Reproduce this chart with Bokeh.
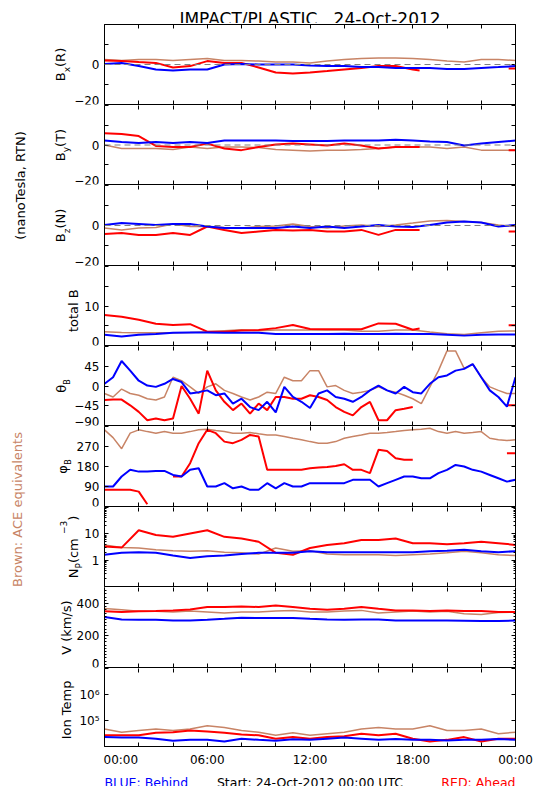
import math
import numpy as np
from bokeh.plotting import figure
from bokeh.layouts import row, column
from bokeh.models import Range1d, LinearAxis, FixedTicker, Label, Span, CustomLabelingPolicy
from bokeh.embed import file_html
from bokeh.resources import INLINE

FONT = "DejaVu Sans"
BLUE = "#0000FF"
RED = "#FF0000"
BROWN = "#C88466"
NAN = float("nan")
NBSP3 = "\u00a0\u00a0\u00a0"

TITLE = "IMPACT/PLASTIC" + NBSP3 + "24-Oct-2012"
FOOT_LEFT = "BLUE: Behind"
FOOT_MID = "Start: 24-Oct-2012 00:00 UTC"
FOOT_RIGHT = "RED: Ahead"
SIDE_TOP = "(nanoTesla, RTN)"
SIDE_BOTTOM = "Brown: ACE equivalents"

# ---------------- time bases (hours after start) ----------------
HOURS = [0, 1, 2, 3, 4, 5, 6, 7, 8, 9, 10, 11, 12, 13, 14, 15, 16, 17, 18,
         19, 20, 21, 22, 23, 24]
HALF_HOURS = [0, 0.5, 1, 1.5, 2, 2.5, 3, 3.5, 4, 4.5, 5, 5.5, 6, 6.5, 7, 7.5,
              8, 8.5, 9, 9.5, 10, 10.5, 11, 11.5, 12, 12.5, 13, 13.5, 14, 14.5,
              15, 15.5, 16, 16.5, 17, 17.5, 18, 18.5, 19, 19.5, 20, 20.5, 21,
              21.5, 22, 22.5, 23, 23.5, 24]
RED_B_HOURS = [0, 1, 2, 3, 4, 5, 6, 7, 8, 9, 10, 11, 12, 13, 14, 15, 16, 17,
               18, 18.4, 21, 23.6, 24]

X_TICKS = [0, 2, 4, 6, 8, 10, 12, 14, 16, 18, 20, 22, 24]
X_TICK_LABELS = {0: "00:00", 6: "06:00", 12: "12:00", 18: "18:00", 24: "00:00"}

# ---------------- B_x (R) ----------------
BX_BLUE = [0.3, 0.8, -0.8, -2.5, -3, -2.5, -2.5, 0, 0.3, 0, 0, 0, -0.5, -0.8,
           -0.8, -1.2, -1.3, -1.7, -1.7, -1.7, -2.2, -2.2, -1.7, -1.3, -0.8]
BX_BROWN = [2.5, 2, 2.5, 2.5, 2, 2.5, 3, 2, 2, 1.7, 1.2, 1.3, 0.8, 1.7, 2.5,
            3, 3.3, 3.3, 3, 2.5, 1.7, 1.3, 2.5, 2.5, 2]
BX_RED = [2, 1.7, 1.2, 0.8, -1.5, -0.8, 1.7, 0.8, 0.8, -1.5, -4, -4.5, -4,
          -3.3, -2.5, -1.7, -0.8, -0.8, -2.5, -3, NAN, -2, -2]

# ---------------- B_y (T) ----------------
BY_BLUE = [2.3, 1.5, 1, 1.5, 1, 1.5, 1, 2.3, 2.3, 2.3, 2.3, 2, 2, 2, 2.3, 2.3,
           2.3, 2.6, 2.3, 1.8, 1.5, -0.2, 0.7, 1.5, 2.3]
BY_BROWN = [0, -1.8, -1.8, -1.8, -2.3, -1, -1.8, -1, -1, -1.3, -2.3, -2.6, -3,
            -2.6, -2.6, -2.3, -1.8, -1, -1, -1, -1.8, -1, -2.6, -2.6, -2.6]
BY_RED = [6, 5.6, 4.5, -0.5, -1, -1, 0.7, -1.8, -2.6, -1, 0.3, 0.7, 0.3, -0.2,
          0.7, -0.2, -1.8, -1, -1, -1, NAN, -2.6, -2.6]

# ---------------- B_z (N) ----------------
BZ_BLUE = [0.3, 1.2, 0.8, 0.3, 0.7, 0.8, -0.5, -1.3, -1.3, -1.3, -1.3, -0.5,
           -1.3, -0.5, -1.3, -0.5, 0.3, -0.5, -0.8, 0.3, 1.5, 2, 1.5, -0.5, 0.3]
BZ_BROWN = [-1.3, -2.2, -1.3, -1, 0.8, -0.5, -0.5, -1, -1.3, -0.5, -0.2, 0.8,
            -0.5, -1.3, -0.2, 0.3, -0.5, 0.3, 1.2, 2.3, 2.5, 2, 1.5, 0.3, -0.5]
BZ_RED = [-4.2, -3.8, -4.7, -4.7, -3.8, -4.7, -0.5, -2.2, -3.8, -3, -2.2, -2.5,
          -2.2, -3, -3, -2.2, -4.7, -2.2, -2.2, -2.2, NAN, -3, -3]

# ---------------- total B ----------------
BT_BLUE = [2.7, 2.3, 2.7, 2.9, 3.2, 3.3, 3.3, 3.2, 3.2, 3.2, 2.9, 2.9, 2.9,
           2.9, 3.0, 2.9, 2.9, 3.0, 2.9, 2.9, 2.7, 2.5, 2.7, 2.8, 2.8]
BT_BROWN = [3.5, 3.3, 3.2, 3.2, 3.2, 3.3, 3.5, 3.75, 4.0, 3.75, 3.9, 3.9, 3.9,
            3.9, 3.9, 3.6, 3.6, 3.9, 3.9, 3.4, 3.0, 2.8, 3.2, 3.6, 3.7]
BT_RED = [7.7, 7.3, 6.5, 5.5, 5.2, 5.4, 3.5, 3.5, 3.8, 3.9, 4.4, 5.2, 4.2, 4.1,
          4.1, 4.1, 5.6, 5.5, 4.0, 4.3, NAN, 5.1, 5.1]

# ---------------- theta_B (deg), half-hourly ----------------
TH_BLUE = [5, 20, 57, 35, 12, 1, -2, 5, 16, 9, -17, -14, -10, -21, -17, -40,
           -29, -48, -55, -36, -60, -2, -25, -36, -50,
           -17, -10, -25, -29, -36, -25, -10, 1, -10, -17, -2, -14, -17, 5,
           20, 24, 35, 39, 50, 20, -10, -25, -47, 20]
TH_RED = [-32, -31, -31, -44, -59, -78, -74, -78, -74, 0, -29, -63, 35, -10,
          -36, -55, -40, -63, -40, -55, -25, -25, -29, -29, -21,
          -25, -32, -48, -59, -67, -48, -36, -78, -78, -55, -52, -48, NAN,
          NAN, NAN, NAN, NAN, NAN, NAN, NAN, NAN, NAN, -44, -44]
TH_BROWN = [-17, -25, -7, -17, -21, -29, -32, -25, 20, 12, -2, -17, -2, 5,
            -10, -17, -25, -32, -25, -14, -17, 20, 12, 12, 35,
            35, -2, 1, -10, -17, -14, -10, -2, -10, -14, -21, -29, -40, -2,
            35, 80, 80, 40, 50, 20, -2, -10, -17, -17]

# ---------------- phi_B (deg), half-hourly ----------------
PH_BLUE = [90, 90, 135, 165, 157, 157, 160, 160, 142, 135, 165, 172, 90, 90,
           105, 82, 90, 75, 75, 105, 82, 105, 90, 90, 105,
           105, 105, 105, 105, 120, 120, 120, 90, 105, 120, 135, 135, 127,
           127, 150, 165, 187, 180, 165, 157, 142, 127, 112, 120]
PH_RED = [75, 75, 75, 75, 67, 10, NAN, NAN, 135, 135, 195, 285, 345, 330, 292,
          285, 300, 322, 315, 165, 165, 165, 165, 165, 172,
          175, 178, 182, 190, 165, 165, 150, 255, 250, 217, 210, 210, NAN,
          NAN, NAN, NAN, NAN, NAN, NAN, NAN, NAN, NAN, 240, 240]
PH_BROWN = [345, 310, 260, 330, 345, 337, 330, 337, 330, 330, 337, 345, 348,
            342, 337, 330, 330, 333, 327, 322, 322, 315, 307, 300, 292,
            285, 285, 292, 307, 315, 322, 330, 330, 333, 337, 342, 345, 348,
            352, 337, 330, 337, 330, 333, 337, 307, 300, 297, 300]

# ---------------- N_p (cm^-3), hourly ----------------
NP_BLUE = [1.6, 1.9, 2.0, 1.9, 1.5, 1.2, 1.4, 1.5, 1.7, 1.9, 1.9, 1.9, 2.2,
           2.0, 2.0, 2.0, 2.0, 2.0, 2.0, 2.2, 2.3, 2.5, 2.2, 2.0, 2.2]
NP_RED = [3.3, 3.0, 13.7, 9.0, 7.7, 10.3, 13.7, 7.7, 6.7, 5.0, 1.9, 1.6, 2.9,
          3.8, 4.4, 5.8, 5.8, 6.7, 4.4, 4.4, 4.0, 4.4, 5.0, 4.4, 3.8]
NP_BROWN = [3.8, 3.0, 2.9, 2.5, 2.3, 2.2, 2.3, 2.0, 1.9, 1.7, 2.9, 2.2, 2.3,
            1.7, 1.6, 1.6, 1.6, 1.5, 1.6, 1.7, 1.9, 2.2, 1.9, 1.6, 1.5]

# ---------------- V (km/s), hourly ----------------
V_BLUE = [315, 300, 298, 298, 294, 294, 298, 304, 311, 309, 309, 309, 304,
          300, 298, 300, 300, 294, 294, 294, 294, 292, 290, 290, 294]
V_RED = [351, 347, 351, 353, 357, 363, 378, 378, 382, 378, 388, 378, 367, 361,
         367, 378, 367, 357, 357, 353, 357, 353, 353, 347, 347]
V_BROWN = [368, 361, 351, 351, 347, 353, 347, 340, 347, 347, 353, 357, 347,
           347, 353, 357, 340, 347, 353, 347, 351, 336, 332, 343, 347]

# ---------------- Ion temperature (K), hourly ----------------
T_BLUE = [23000, 22000, 22000, 20000, 16500, 18000, 18000, 15500, 20000,
          18000, 16500, 19000, 18000, 20000, 22000, 20000, 18000, 19500,
          18000, 18000, 17000, 18000, 18000, 19500, 18000]
T_RED = [27000, 27000, 27000, 34000, 35000, 41000, 38000, 34000, 29000,
         27000, 20000, 23000, 20000, 23000, 25000, 31000, 27000, 31000,
         20000, 15500, 18000, 23000, 15500, 20000, 20000]
T_BROWN = [47000, 35500, 41000, 47000, 41000, 47000, 63000, 54000, 41000,
           35500, 27000, 34000, 27000, 31000, 35500, 47000, 54000, 47000,
           47000, 63000, 41000, 41000, 47000, 31000, 35500]

# DejaVu Sans advance widths (em) used to lay out multi-part rotated labels
ADV = {" ": 0.318, "(": 0.390, ")": 0.390, ",": 0.318, "/": 0.337, "B": 0.686,
       "N": 0.748, "P": 0.603, "R": 0.695, "T": 0.611, "c": 0.550, "m": 0.974,
       "x": 0.592, "y": 0.592, "z": 0.525, "\u2212": 0.838, "3": 0.636,
       "\u03b8": 0.602, "\u03c6": 0.686}


def text_len(t, size):
    return sum(ADV.get(ch, 0.6) for ch in t) * size


def rotated_parts(p, x0, yc, parts):
    total = sum(text_len(t, s) for t, s, o in parts)
    y = yc - total / 2.0
    for t, s, off in parts:
        p.add_layout(Label(x=x0 + off, y=y, x_units="screen", y_units="screen",
                           text=t, angle=math.pi / 2, text_align="left",
                           text_baseline="alphabetic", text_font=FONT,
                           text_font_size=f"{s}px", text_color="black"))
        y += text_len(t, s)


MINUS = "\u2212"
NP_MINOR = [0.2, 0.3, 0.4, 0.5, 0.6, 0.7, 0.8, 0.9, 2, 3, 4, 5, 6, 7, 8, 9,
            20, 30, 40, 50, 60, 70, 80, 90]
V_MINOR = [20, 40, 60, 80, 100, 120, 140, 160, 180, 220, 240, 260, 280, 300,
           320, 340, 360, 380, 420, 440, 460, 480]

PANELS = [
    dict(fh=80, rng=(-20, 20), log=False, ticks=[-20, -10, 0, 10, 20], minor=[],
         labels=[(-20, MINUS + "20", True), (0, "0", False)], zero=True,
         lab_x=25, parts=[("B", 13, 0), ("x", 9, 6), ("(R)", 13, 0)],
         series=[(HOURS, BX_BROWN, BROWN), (RED_B_HOURS, BX_RED, RED), (HOURS, BX_BLUE, BLUE)]),
    dict(fh=79, rng=(-20, 20), log=False, ticks=[-20, -10, 0, 10, 20], minor=[],
         labels=[(-20, MINUS + "20", True), (0, "0", False)], zero=True,
         lab_x=25, parts=[("B", 13, 0), ("y", 9, 5), ("(T)", 13, 0)],
         series=[(HOURS, BY_BROWN, BROWN), (RED_B_HOURS, BY_RED, RED), (HOURS, BY_BLUE, BLUE)]),
    dict(fh=80, rng=(-20, 20), log=False, ticks=[-20, -10, 0, 10, 20], minor=[],
         labels=[(-20, MINUS + "20", True), (0, "0", False)], zero=True,
         lab_x=25, parts=[("B", 13, 0), ("z", 9, 6), ("(N)", 13, 0)],
         series=[(HOURS, BZ_BROWN, BROWN), (RED_B_HOURS, BZ_RED, RED), (HOURS, BZ_BLUE, BLUE)]),
    dict(fh=79, rng=(0, 20), log=False, ticks=[0, 5, 10, 15, 20], minor=[],
         labels=[(0, "0", True), (10, "10", False)], zero=False,
         lab_x=38, parts=[("total B", 13, 0)],
         series=[(HOURS, BT_BROWN, BROWN), (RED_B_HOURS, BT_RED, RED), (HOURS, BT_BLUE, BLUE)]),
    dict(fh=79, rng=(-90, 90), log=False, ticks=[-90, -45, 0, 45, 90], minor=[],
         labels=[(-90, MINUS + "90", True), (-45, MINUS + "45", False), (0, "0", False), (45, "45", False)],
         zero=False, lab_x=26, parts=[("\u03b8", 13, 0), ("B", 8, 6)],
         series=[(HALF_HOURS, TH_BROWN, BROWN), (HALF_HOURS, TH_RED, RED), (HALF_HOURS, TH_BLUE, BLUE)]),
    dict(fh=80, rng=(0, 360), log=False, ticks=[0, 90, 180, 270, 360], minor=[],
         labels=[(0, "0", True), (90, "90", False), (180, "180", False), (270, "270", False)],
         zero=False, lab_x=27, parts=[("\u03c6", 13, 0), ("B", 8, 6)],
         series=[(HALF_HOURS, PH_BROWN, BROWN), (HALF_HOURS, PH_RED, RED), (HALF_HOURS, PH_BLUE, BLUE)]),
    dict(fh=79, rng=(0.1, 100), log=True, ticks=[0.1, 1, 10, 100], minor=NP_MINOR,
         labels=[(1, "1", False), (10, "10", False)], zero=False,
         lab_x=38, parts=[("N", 13, 0), ("P", 9, 5), (" (cm", 13, 0), (MINUS + "3", 9, -10), (")", 13, 0)],
         series=[(HOURS, NP_BROWN, BROWN), (HOURS, NP_RED, RED), (HOURS, NP_BLUE, BLUE)]),
    dict(fh=80, rng=(0, 500), log=False, ticks=[0, 200, 400], minor=V_MINOR,
         labels=[(0, "0", True), (200, "200", False), (400, "400", False)], zero=False,
         lab_x=31, parts=[("V (km/s)", 13, 0)],
         series=[(HOURS, V_BROWN, BROWN), (HOURS, V_RED, RED), (HOURS, V_BLUE, BLUE)]),
    dict(fh=78, rng=(1e4, 1e7), log=True, ticks=[1e4, 1e5, 1e6, 1e7], minor=[],
         labels=[(1e5, "10\u2075", False), (1e6, "10\u2076", False)], zero=False,
         lab_x=31, parts=[("Ion Temp", 13, 0)],
         series=[(HOURS, T_BROWN, BROWN), (HOURS, T_RED, RED), (HOURS, T_BLUE, BLUE)]),
]

SIDE_W = 35      # column with the two long rotated captions
LAB_W = 68       # column with axis names and tick labels of each panel
FRAME_W = 411
BORDER_R = 19
HEAD_H = 23
FOOT_H = 17
LAST_BOTTOM = 21

NO_LABELS = CustomLabelingPolicy(code="for (const i of indices) { indices.unset(i) }\nreturn indices")


def quiet_axis(ax):
    ax.major_label_text_font_size = "0px"
    ax.major_label_standoff = 0
    ax.major_label_policy = NO_LABELS


def bare(p):
    p.xgrid.visible = False
    p.ygrid.visible = False
    p.outline_line_color = None


XR = Range1d(0, 24)
rows = []
n = len(PANELS)
total_h = HEAD_H + FOOT_H
for i, spec in enumerate(PANELS):
    first = i == 0
    last = i == n - 1
    fh = spec["fh"]
    yr = Range1d(*spec["rng"])
    ytype = "log" if spec["log"] else "linear"
    top_b = 1 if first else 0
    bot_b = LAST_BOTTOM if last else 1
    total_h += fh + top_b + bot_b

    p = figure(title=None, frame_width=FRAME_W, frame_height=fh, x_range=XR, y_range=yr,
               y_axis_type=ytype, x_axis_location=None, y_axis_location=None,
               toolbar_location=None, output_backend="svg",
               min_border_left=1, min_border_right=BORDER_R,
               min_border_top=top_b, min_border_bottom=bot_b)
    bare(p)

    for side in ("below", "above"):
        ax = LinearAxis(ticker=FixedTicker(ticks=X_TICKS))
        ax.major_tick_in = 4
        ax.major_tick_out = 0
        ax.minor_tick_in = 0
        ax.minor_tick_out = 0
        ax.axis_line_color = "black"
        if side == "below" and last:
            ax.major_label_overrides = {t: X_TICK_LABELS.get(t, "") for t in X_TICKS}
            ax.major_label_text_font = FONT
            ax.major_label_text_font_size = "12px"
            ax.major_label_text_color = "black"
            ax.major_label_standoff = 6
        else:
            quiet_axis(ax)
        if side == "above" and not first:
            ax.axis_line_color = None
        p.add_layout(ax, side)

    for side in ("left", "right"):
        ax = LinearAxis(ticker=FixedTicker(ticks=spec["ticks"], minor_ticks=spec["minor"]))
        ax.major_tick_in = 4
        ax.major_tick_out = 0
        ax.minor_tick_in = 2
        ax.minor_tick_out = 0
        ax.axis_line_color = "black"
        quiet_axis(ax)
        p.add_layout(ax, side)

    if spec["zero"]:
        p.add_layout(Span(location=0, dimension="width", line_color="#808080",
                          line_dash="6 4", line_width=1))

    for xs, ys, col in spec["series"]:
        p.line(np.array(xs, dtype=float), np.array(ys, dtype=float),
               line_color=col, line_width=1.5 if col == BROWN else 2)

    # label column sharing this panel's y range (so tick labels follow its scale)
    q = figure(title=None, frame_width=LAB_W, frame_height=fh, x_range=Range1d(0, 1), y_range=yr,
               y_axis_type=ytype, x_axis_location=None, y_axis_location=None,
               toolbar_location=None, output_backend="svg",
               min_border_left=0, min_border_right=0,
               min_border_top=top_b, min_border_bottom=bot_b)
    bare(q)
    for val, txt, bottom in spec["labels"]:
        q.add_layout(Label(x=LAB_W - 4, y=val, x_units="screen", y_units="data",
                           text=txt, text_align="right",
                           text_baseline="bottom" if bottom else "middle",
                           text_font=FONT, text_font_size="12px", text_color="black"))
    rotated_parts(q, spec["lab_x"], fh / 2.0, spec["parts"])

    rows.append(row(q, p, spacing=0))

WIDE = LAB_W + 1 + FRAME_W + BORDER_R
CX = LAB_W + 1 + FRAME_W / 2.0

head = figure(title=None, width=WIDE, height=HEAD_H, x_range=Range1d(0, 1), y_range=Range1d(0, 1),
              x_axis_location=None, y_axis_location=None, toolbar_location=None,
              output_backend="svg", min_border=0)
bare(head)
head.add_layout(Label(x=CX, y=5, x_units="screen", y_units="screen", text=TITLE,
                      text_align="center", text_baseline="alphabetic", text_font=FONT,
                      text_font_size="17px", text_color="black"))

foot = figure(title=None, width=WIDE, height=FOOT_H, x_range=Range1d(0, 1), y_range=Range1d(0, 1),
              x_axis_location=None, y_axis_location=None, toolbar_location=None,
              output_backend="svg", min_border=0)
bare(foot)
for x, txt, al, col in [(LAB_W + 1, FOOT_LEFT, "left", BLUE),
                        (CX, FOOT_MID, "center", "black"),
                        (LAB_W + 1 + FRAME_W, FOOT_RIGHT, "right", RED)]:
    foot.add_layout(Label(x=x, y=4, x_units="screen", y_units="screen", text=txt,
                          text_align=al, text_baseline="alphabetic", text_font=FONT,
                          text_font_size="12.5px", text_color=col))

side = figure(title=None, width=SIDE_W, height=total_h, x_range=Range1d(0, SIDE_W),
              y_range=Range1d(total_h, 0),
              x_axis_location=None, y_axis_location=None, toolbar_location=None,
              output_backend="svg", min_border=0)
bare(side)
side.add_layout(Label(x=20, y=185, text=SIDE_TOP, angle=math.pi / 2, text_align="center",
                      text_baseline="alphabetic", text_font=FONT, text_font_size="13px",
                      text_color="black"))
side.add_layout(Label(x=17, y=509, text=SIDE_BOTTOM, angle=math.pi / 2, text_align="center",
                      text_baseline="alphabetic", text_font=FONT, text_font_size="13px",
                      text_color=BROWN))

layout = row(side, column(head, *rows, foot, spacing=0), spacing=0)
open("out.html", "w").write(file_html(layout, INLINE))
